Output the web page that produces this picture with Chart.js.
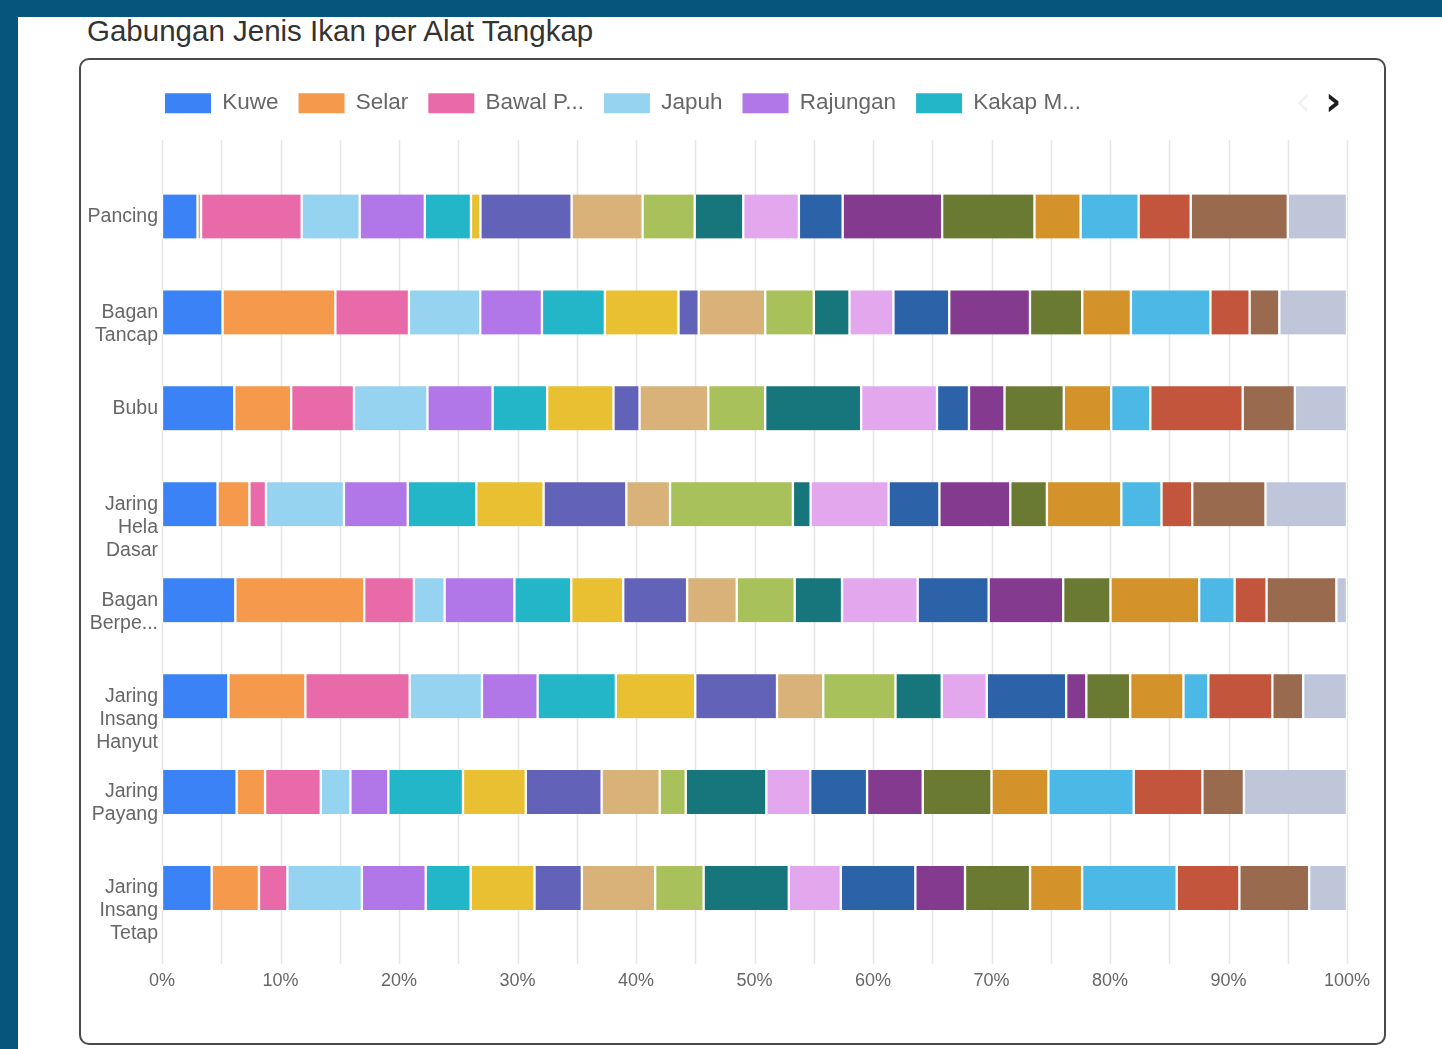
<!DOCTYPE html>
<html>
<head>
<meta charset="utf-8">
<script src="https://cdn.jsdelivr.net/npm/chart.js@4.4.1/dist/chart.umd.min.js"></script>
<style>
  html, body { margin: 0; padding: 0; }
  body { width: 1442px; height: 1049px; background: #05557c; position: relative; overflow: hidden; font-family: "Liberation Sans", Arial, sans-serif; }
  .panel { position: absolute; left: 18px; top: 17px; right: 0; bottom: 0; background: #fff; }
  .title { position: absolute; left: 87px; top: 13px; font-size: 29.5px; line-height: 36px; color: #333; }
  .card { position: absolute; left: 79px; top: 58px; width: 1307px; height: 987px; box-sizing: border-box; border: 2px solid #4a4a4a; border-radius: 10px; background: #fff; }
  .card canvas { position: absolute; left: 0; top: 0; }
  .nav { position: absolute; top: 81px; font-size: 40px; line-height: 40px; font-family: "DejaVu Sans", sans-serif; }
  .prev { left: 1295px; color: #f2f2f2; }
  .next { left: 1325px; color: #1e1e1e; font-weight: bold; }
</style>
</head>
<body>
<div class="panel"></div>
<div class="title">Gabungan Jenis Ikan per Alat Tangkap</div>
<div class="card"><canvas id="chart" width="1303" height="983"></canvas></div>
<div class="nav prev">‹</div>
<div class="nav next">›</div>
<script>
// alat tangkap
const categories = ['Pancing', 'Bagan Tancap', 'Bubu', 'Jaring Hela Dasar', 'Bagan Berperahu', 'Jaring Insang Hanyut', 'Jaring Payang', 'Jaring Insang Tetap'];

// jenis ikan (persen per alat tangkap)
const kuwe       = [3.0, 5.1, 6.1, 4.7, 6.2, 5.6, 6.3, 4.2];
const selar      = [0.3, 9.5, 4.8, 2.7, 10.9, 6.5, 2.4, 4.0];
const bawalPutih = [8.5, 6.2, 5.3, 1.4, 4.2, 8.8, 4.7, 2.4];
const japuh      = [4.9, 6.0, 6.2, 6.6, 2.6, 6.1, 2.5, 6.3];
const rajungan   = [5.5, 5.2, 5.5, 5.4, 5.9, 4.7, 3.2, 5.4];
const kakapMerah = [3.9, 5.3, 4.6, 5.8, 4.8, 6.6, 6.3, 3.8];
const tongkol    = [0.8, 6.2, 5.6, 5.7, 4.4, 6.7, 5.3, 5.4];
const tenggiri   = [7.7, 1.7, 2.2, 7.0, 5.4, 6.9, 6.4, 4.0];
const kembung    = [6.0, 5.6, 5.8, 3.7, 4.2, 3.9, 4.9, 6.2];
const teri       = [4.4, 4.1, 4.8, 10.4, 4.9, 6.1, 2.2, 4.1];
const layang     = [4.1, 3.0, 8.1, 1.5, 4.0, 3.9, 6.8, 7.2];
const cumi       = [4.7, 3.7, 6.4, 6.6, 6.4, 3.8, 3.7, 4.4];
const udang      = [3.7, 4.7, 2.7, 4.3, 6.0, 6.7, 4.8, 6.3];
const kerapu     = [8.4, 6.8, 3.0, 6.0, 6.3, 1.7, 4.7, 4.2];
const baronang   = [7.8, 4.4, 5.0, 3.1, 4.0, 3.7, 5.8, 5.5];
const pari       = [3.9, 4.1, 4.0, 6.3, 7.5, 4.5, 4.8, 4.4];
const tembang    = [4.9, 6.7, 3.3, 3.4, 3.0, 2.1, 7.2, 8.0];
const lemuru     = [4.4, 3.3, 7.8, 2.6, 2.7, 5.4, 5.8, 5.3];
const manyung    = [8.2, 2.5, 4.4, 6.2, 5.9, 2.6, 3.5, 5.9];
const gulamah    = [5.0, 5.7, 4.4, 6.9, 0.9, 3.7, 8.7, 3.2];

const seriesNames = ['Kuwe', 'Selar', 'Bawal Putih', 'Japuh', 'Rajungan', 'Kakap Merah', 'Tongkol', 'Tenggiri', 'Kembung', 'Teri',
  'Layang', 'Cumi-cumi', 'Udang', 'Kerapu', 'Baronang', 'Pari', 'Tembang', 'Lemuru', 'Manyung', 'Gulamah'];
const seriesValues = [kuwe, selar, bawalPutih, japuh, rajungan, kakapMerah, tongkol, tenggiri, kembung, teri,
  layang, cumi, udang, kerapu, baronang, pari, tembang, lemuru, manyung, gulamah];
const colors = ['#3b82f6', '#f59a4c', '#e96aa8', '#95d3f0', '#b176e8', '#23b5c8', '#e9c032', '#6262b9', '#d9b27a', '#a9c15b',
  '#17767b', '#e3a7ee', '#2b62a8', '#843b8f', '#6b7a32', '#d4932a', '#4cb8e6', '#c2553b', '#9a6a4f', '#bfc6da'];

const xTicks = [0, 10, 20, 30, 40, 50, 60, 70, 80, 90, 100];

// normalise each alat tangkap to 100%
const totals = categories.map((_, i) => seriesValues.reduce((s, arr) => s + arr[i], 0));

const datasets = seriesNames.map((name, k) => ({
  label: name,
  data: seriesValues[k].map((v, i) => v / totals[i] * 100),
  backgroundColor: colors[k],
  borderColor: '#ffffff',
  borderWidth: { left: 1.5, right: 1.5, top: 0, bottom: 0 },
  borderSkipped: false,
  borderRadius: 2,
  barThickness: 44
}));

const font = '"Liberation Sans", Arial, sans-serif';

// space under the legend, and legend starting over the plot
const legendGap = {
  id: 'legendGap',
  beforeInit(chart) {
    const fit = chart.legend.fit;
    chart.legend.fit = function () {
      fit.bind(chart.legend)();
      this.height += 44;
    };
  },
  afterLayout(chart) {
    chart.legend.left = 64;
  }
};

const gridLines = {
  id: 'gridLines',
  beforeDatasetsDraw(chart) {
    const { ctx, scales: { x } } = chart;
    ctx.save();
    ctx.strokeStyle = '#e6e6e6';
    ctx.lineWidth = 1.5;
    for (let v = 0; v <= 100; v += 5) {
      const px = Math.round(x.getPixelForValue(v)) + 0.5;
      ctx.beginPath();
      ctx.moveTo(px, 80);
      ctx.lineTo(px, 904);
      ctx.stroke();
    }
    ctx.restore();
  }
};

new Chart(document.getElementById('chart'), {
  type: 'bar',
  data: { labels: categories, datasets: datasets },
  options: {
    indexAxis: 'y',
    responsive: false,
    animation: false,
    layout: { padding: { left: 0, right: 37, top: 12, bottom: 45 } },
    scales: {
      x: {
        stacked: true,
        min: 0,
        max: 100,
        afterBuildTicks: (s) => { s.ticks = xTicks.map(v => ({ value: v })); },
        afterFit: (s) => { s.height = 62; s.paddingLeft = 0; s.paddingRight = 0; },
        grid: { display: false, drawTicks: false },
        border: { display: false },
        ticks: {
          padding: 34,
          color: '#666',
          font: { family: font, size: 18 },
          callback: (v) => v + '%'
        }
      },
      y: {
        stacked: true,
        afterFit: (s) => { s.width = 81; s.paddingTop = 0; s.paddingBottom = 0; },
        grid: { display: false, drawTicks: false },
        border: { display: false },
        ticks: {
          autoSkip: false,
          padding: 4,
          color: '#666',
          font: { family: font, size: 19.5, lineHeight: 1.18 },
          callback: function (v, i) {
            const words = categories[i].split(' ').map(w => w.length > 8 ? w.slice(0, 5) + '...' : w);
            const pad = new Array(words.length - 1).fill('');
            return pad.concat(words);
          }
        }
      }
    },
    plugins: {
      tooltip: { enabled: false },
      legend: {
        position: 'top',
        align: 'start',
        labels: {
          boxWidth: 46,
          boxHeight: 20,
          padding: 20,
          color: '#666',
          font: { family: font, size: 22.5 },
          generateLabels: (chart) => Chart.defaults.plugins.legend.labels.generateLabels(chart)
            .filter(item => item.datasetIndex < 6)
            .map(item => Object.assign(item, {
              text: item.text.length > 8 ? item.text.slice(0, 7) + '...' : item.text,
              strokeStyle: item.fillStyle,
              lineWidth: 0
            }))
        }
      }
    }
  },
  plugins: [legendGap, gridLines]
});
</script>
</body>
</html>
